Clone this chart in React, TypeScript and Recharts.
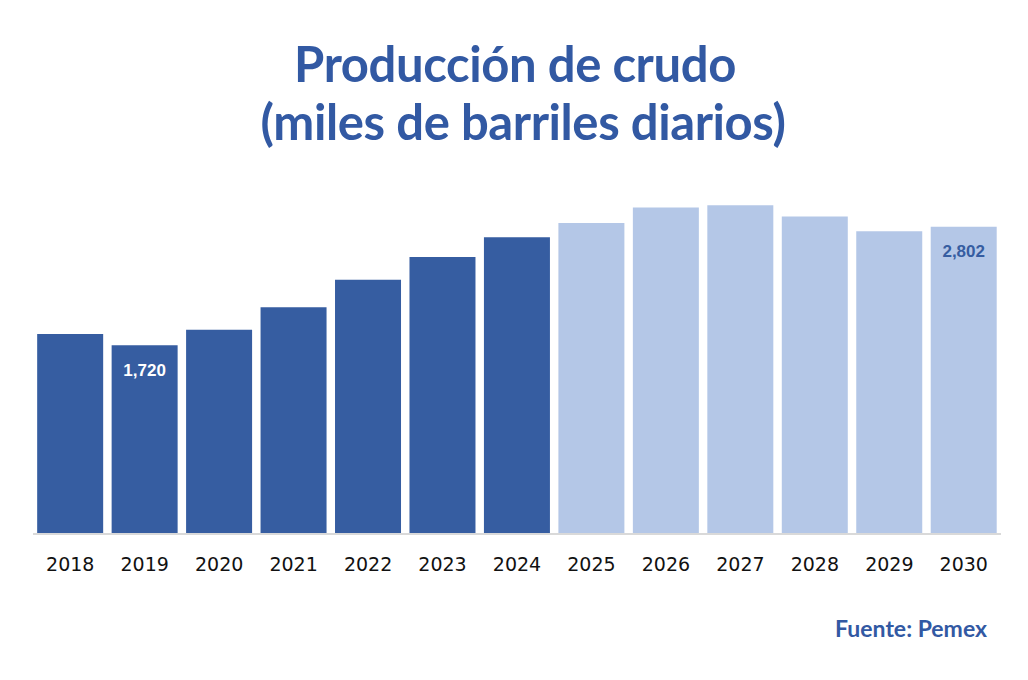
import { BarChart, Bar, XAxis, YAxis, Cell, LabelList } from "recharts";

const YEARS = ["2018", "2019", "2020", "2021", "2022", "2023", "2024", "2025", "2026", "2027", "2028", "2029", "2030"];
const PRODUCTION = [1824, 1720, 1863, 2067, 2319, 2526, 2705, 2836, 2976, 2997, 2894, 2760, 2802];
// first projected year (lighter bars from here on)
const PROJECTION_START = "2025";
const LABELED_YEARS = ["2019", "2030"];

const DARK_BLUE = "#365DA1";
const LIGHT_BLUE = "#B4C7E7";
const TITLE_BLUE = "#3259A3";

const data = YEARS.map((year, i) => ({ year, value: PRODUCTION[i] }));

const fmt = (v: number) => v.toLocaleString("en-US");

const ValueLabel = (props: any) => {
  const { x, y, width, value, index } = props;
  const year = YEARS[index];
  if (!LABELED_YEARS.includes(year)) return null;
  const projected = year >= PROJECTION_START;
  return (
    <text
      x={x + width / 2}
      y={y + 25}
      textAnchor="middle"
      dominantBaseline="central"
      fill={projected ? DARK_BLUE : "#ffffff"}
      fontFamily="'Liberation Sans', Arial, sans-serif"
      fontWeight="bold"
      fontSize={17}
    >
      {fmt(Number(value))}
    </text>
  );
};

export default function App() {
  return (
    <div style={{ position: "relative", width: 1028, height: 680, background: "#fff", overflow: "hidden" }}>
      <style>{`body{margin:0}`}</style>
      <div
        style={{
          position: "absolute",
          top: 34,
          left: 0,
          width: 1028,
          textAlign: "center",
          color: TITLE_BLUE,
          fontFamily: "Lato, 'Open Sans', sans-serif",
          fontWeight: 700,
          fontSize: 49,
          lineHeight: "58px",
          letterSpacing: -0.4,
        }}
      >
        <div style={{ paddingLeft: 2 }}>Producción de crudo</div>
        <div style={{ paddingLeft: 18 }}>(miles de barriles diarios)</div>
      </div>

      <BarChart
        width={1028}
        height={680}
        data={data}
        margin={{ top: 183, right: 27, bottom: 116, left: 33 }}
        barCategoryGap="5.6%"
      >
        <YAxis hide domain={[0, 3200]} />
        <XAxis
          dataKey="year"
          height={30}
          tickLine={false}
          axisLine={{ stroke: "#D9D9D9", strokeWidth: 2 }}
          tick={{ fill: "#111", fontSize: 19, fontFamily: "'DejaVu Sans', sans-serif" }}
          dy={16}
          interval={0}
        />
        <Bar dataKey="value" isAnimationActive={false}>
          {data.map((d) => (
            <Cell key={d.year} fill={d.year >= PROJECTION_START ? LIGHT_BLUE : DARK_BLUE} />
          ))}
          <LabelList dataKey="value" content={<ValueLabel />} />
        </Bar>
      </BarChart>

      <div
        style={{
          position: "absolute",
          right: 41,
          top: 614,
          color: TITLE_BLUE,
          fontFamily: "Lato, sans-serif",
          fontWeight: 700,
          fontSize: 23,
        }}
      >
        Fuente: Pemex
      </div>
    </div>
  );
}
